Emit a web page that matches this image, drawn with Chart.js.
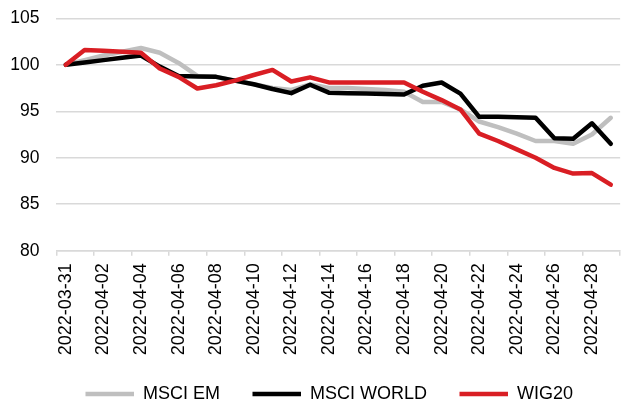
<!DOCTYPE html>
<html>
<head>
<meta charset="utf-8">
<script src="https://cdn.jsdelivr.net/npm/chart.js@4"></script>
<style>
html, body { margin: 0; padding: 0; background: #fff; overflow: hidden; }
</style>
</head>
<body>
<canvas id="chart" width="640" height="420"></canvas>
<script>
// daily points, 2022-03-31 .. 2022-04-29 (index, 31.03 = 100)
const dates = [
  '2022-03-31', '2022-04-01', '2022-04-02', '2022-04-03', '2022-04-04', '2022-04-05',
  '2022-04-06', '2022-04-07', '2022-04-08', '2022-04-09', '2022-04-10', '2022-04-11',
  '2022-04-12', '2022-04-13', '2022-04-14', '2022-04-15', '2022-04-16', '2022-04-17',
  '2022-04-18', '2022-04-19', '2022-04-20', '2022-04-21', '2022-04-22', '2022-04-23',
  '2022-04-24', '2022-04-25', '2022-04-26', '2022-04-27', '2022-04-28', '2022-04-29'
];
const msciEm = [
  100, 100.5, 101.0, 101.4, 101.8, 101.3, 100.2, 98.8, 98.7, 98.3,
  97.9, 97.5, 97.3, 97.9, 97.5, 97.5, 97.4, 97.3, 97.1, 96.0,
  96.0, 95.2, 93.9, 93.3, 92.6, 91.8, 91.8, 91.5, 92.5, 94.3
];
const msciWorld = [
  100, 100.25, 100.5, 100.75, 101.0, 99.8, 98.8, 98.75, 98.7, 98.3,
  97.9, 97.4, 96.95, 97.85, 97.0, 96.95, 96.9, 96.85, 96.8, 97.75,
  98.1, 96.9, 94.4, 94.4, 94.35, 94.3, 92.1, 92.05, 93.7, 91.5
];
const wig20 = [
  100, 101.6, 101.5, 101.4, 101.3, 99.6, 98.7, 97.45, 97.8, 98.3,
  98.9, 99.45, 98.2, 98.65, 98.1, 98.1, 98.1, 98.1, 98.1, 97.1,
  96.2, 95.2, 92.6, 91.8, 90.9, 90.0, 88.9, 88.3, 88.35, 87.1
];
const yTicks = { min: 80, max: 105, step: 5 };

Chart.defaults.font.family = "'Liberation Sans', Arial, sans-serif";
Chart.defaults.color = '#000';

function series(label, data, color, order) {
  return {
    label: label,
    data: data,
    borderColor: color,
    backgroundColor: color,
    borderWidth: 4.5,
    pointRadius: 0,
    tension: 0,
    borderCapStyle: 'round',
    borderJoinStyle: 'round',
    order: order
  };
}

// nudge the legend row into place after layout
const legendShift = {
  id: 'legendShift',
  afterLayout(chart) {
    const lg = chart.legend;
    lg.left += 13.65; lg.right += 13.65;
    lg.top -= 7; lg.bottom -= 7;
  }
};

const ctx = document.getElementById('chart').getContext('2d');
new Chart(ctx, {
  type: 'line',
  data: {
    labels: dates,
    datasets: [
      series('MSCI EM', msciEm, '#bfbfbf', 2),
      series('MSCI WORLD', msciWorld, '#000000', 1),
      series('WIG20', wig20, '#d91e24', 0)
    ]
  },
  plugins: [legendShift],
  options: {
    responsive: false,
    animation: false,
    layout: { padding: { left: 0, right: 8.8, top: 18.3, bottom: 0 } },
    plugins: {
      tooltip: { enabled: false },
      legend: {
        position: 'bottom',
        labels: {
          usePointStyle: true,
          pointStyle: 'line',
          pointStyleWidth: 48.5,
          padding: 32.5,
          font: { size: 18 },
          color: '#000',
          sort: (a, b) => a.datasetIndex - b.datasetIndex
        }
      }
    },
    scales: {
      x: {
        offset: true,
        grid: {
          offset: true,
          drawOnChartArea: false,
          tickLength: 5,
          lineWidth: 1.5,
          color: c => (c.index % 2 ? 'rgba(0,0,0,0)' : '#d9d9d9')
        },
        border: { color: '#d9d9d9', width: 1.5 },
        ticks: {
          autoSkip: false,
          minRotation: 90,
          maxRotation: 90,
          padding: 7.5,
          font: { size: 18 },
          callback: function(v, i) { return i % 2 === 0 ? this.getLabelForValue(v) : ''; }
        },
        afterFit: s => { s.height = 108.8; }
      },
      y: {
        min: yTicks.min,
        max: yTicks.max,
        ticks: { stepSize: yTicks.step, padding: 3, font: { size: 17.5 } },
        grid: { drawTicks: true, tickLength: 14, tickColor: 'rgba(0,0,0,0)', color: '#d9d9d9', lineWidth: 1.5 },
        border: { display: false },
        afterFit: s => { s.width = 56.4; }
      }
    }
  }
});
</script>
</body>
</html>
